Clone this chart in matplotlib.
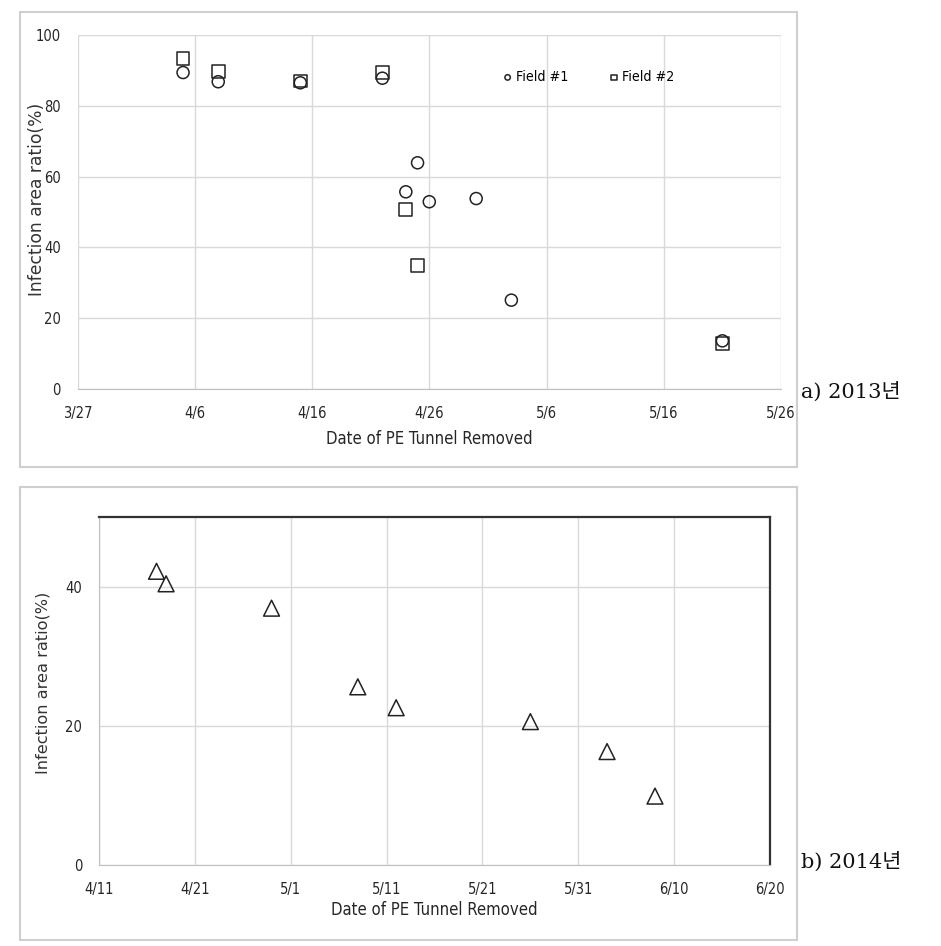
import numpy as np
import pandas as pd
import matplotlib
matplotlib.use('Agg')
import matplotlib.pyplot as plt
from matplotlib.patches import Rectangle

# 2013 data
f1_dates = ['2013-04-05', '2013-04-08', '2013-04-15', '2013-04-22', '2013-04-24',
            '2013-04-25', '2013-04-26', '2013-04-30', '2013-05-03', '2013-05-21']
f1_vals = [89.4, 86.8, 86.5, 87.8, 55.7, 63.9, 52.9, 53.8, 25.1, 13.6]
f2_dates = ['2013-04-05', '2013-04-08', '2013-04-15', '2013-04-22', '2013-04-24',
            '2013-04-25', '2013-05-21']
f2_vals = [93.4, 89.6, 87.0, 89.4, 50.8, 35.0, 12.9]

# 2014 data
d14_dates = ['2014-04-17', '2014-04-18', '2014-04-29', '2014-05-08', '2014-05-12',
             '2014-05-26', '2014-06-03', '2014-06-08']
d14_vals = [42.2, 40.4, 36.9, 25.6, 22.6, 20.6, 16.3, 9.9]

narrow = ['Liberation Sans Narrow', 'DejaVu Sans']
grid_c = '#d9d9d9'
txt_c = '#262626'

fig = plt.figure(figsize=(9.41, 9.46), dpi=100)

# outer frames
for y0, h in [(0.5063, 0.481), (0.0063, 0.479)]:
    fig.patches.append(Rectangle((0.0213, y0), 0.8257, h, transform=fig.transFigure,
                                 fill=False, edgecolor='#cfcfcf', linewidth=1.5))

def style(ax, start, end, yticks, ylab_xy, ylab_size, xlab_pad):
    ticks = pd.date_range(start, end, freq='10D')
    ax.set_xlim(pd.Timestamp(start), pd.Timestamp(end))
    ax.set_xticks(ticks)
    ax.set_xticklabels(['%d/%d' % (t.month, t.day) for t in ticks], family=narrow,
                       stretch='condensed', fontsize=10.5)
    ax.set_yticks(yticks)
    ax.set_yticklabels([str(v) for v in yticks], family=narrow, stretch='condensed', fontsize=10.5)
    ax.tick_params(length=0, pad=12, colors=txt_c)
    ax.grid(True, color=grid_c, linewidth=1)
    ax.set_axisbelow(True)
    ax.set_ylabel('Infection area ratio(%)', fontsize=ylab_size, color='#333333')
    ax.yaxis.set_label_coords(*ylab_xy)
    ax.set_xlabel('Date of PE Tunnel Removed', family=narrow, stretch='condensed',
                  fontsize=12, color=txt_c, labelpad=xlab_pad)

# a) 2013
ax1 = fig.add_axes([0.0824, 0.5888, 0.7476, 0.3742])
ax1.scatter(pd.to_datetime(f1_dates), f1_vals, marker='o', s=75, facecolors='none',
            edgecolors='#222222', linewidths=1.1, label='Field #1', zorder=3)
ax1.scatter(pd.to_datetime(f2_dates), f2_vals, marker='s', s=85, facecolors='none',
            edgecolors='#222222', linewidths=1.1, label='Field #2', zorder=3)
ax1.set_ylim(0, 100)
style(ax1, '2013-03-27', '2013-05-26', [0, 20, 40, 60, 80, 100], (-0.045, 0.537), 12.3, 7)
for s in ['top', 'right', 'left']:
    ax1.spines[s].set_visible(False)
ax1.spines['bottom'].set_color('#bfbfbf')
leg = ax1.legend(loc='center', bbox_to_anchor=(0.727, 0.881), ncol=2, frameon=False,
                 markerscale=0.45, handlelength=0.6, handletextpad=0.3, columnspacing=2.9,
                 prop={'family': narrow, 'stretch': 'condensed', 'size': 10.2})

# b) 2014
ax2 = fig.add_axes([0.1052, 0.0856, 0.7131, 0.3679])
ax2.scatter(pd.to_datetime(d14_dates), d14_vals, marker='^', s=130, facecolors='none',
            edgecolors='#222222', linewidths=1.1, zorder=3)
ax2.set_ylim(0, 50)
style(ax2, '2014-04-11', '2014-06-20', [0, 20, 40], (-0.073, 0.522), 11.6, 3)
for s in ['top', 'right']:
    ax2.spines[s].set_color('#333333')
    ax2.spines[s].set_linewidth(1.6)
for s in ['left', 'bottom']:
    ax2.spines[s].set_color('#bfbfbf')

fig.text(0.851, 0.586, 'a) 2013년', family=['DejaVu Serif', 'Noto Sans CJK KR'],
         fontsize=15, va='center', ha='left', color='#111111')
fig.text(0.851, 0.089, 'b) 2014년', family=['DejaVu Serif', 'Noto Sans CJK KR'],
         fontsize=15, va='center', ha='left', color='#111111')

fig.savefig('out.png', dpi=100)
